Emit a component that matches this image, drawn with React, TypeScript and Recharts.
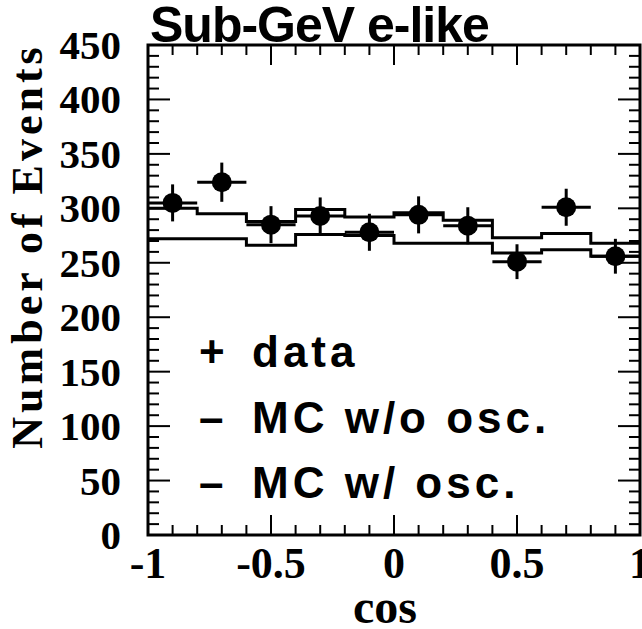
import { ComposedChart, Line, Scatter, ErrorBar, XAxis, YAxis, Legend, ReferenceArea } from 'recharts';

// binning in cos(theta)
const binEdges = [-1, -0.8, -0.6, -0.4, -0.2, 0, 0.2, 0.4, 0.6, 0.8, 1];
const binCenters = [-0.9, -0.7, -0.5, -0.3, -0.1, 0.1, 0.3, 0.5, 0.7, 0.9];
const binHalfWidths = [0.1, 0.1, 0.1, 0.1, 0.1, 0.1, 0.1, 0.1, 0.1, 0.1];

// measured events + MC expectations
const dataCounts = [305, 324, 285, 293, 278, 294, 284, 251, 301, 256];
const dataErrors = [17, 18, 17, 17, 17, 17, 17, 16, 17, 16];
const mcNoOsc = [300, 295, 288, 299, 292, 296, 289, 273, 277, 268];
const mcOsc = [272, 272, 266, 276, 275, 268, 268, 259, 262, 256];

const xMajorTicks = [-1, -0.5, 0, 0.5, 1];
const xTickLabels = ['-1', '-0.5', '0', '0.5', '1'];
const xAllTicks = [
  -1, -0.9, -0.8, -0.7, -0.6, -0.5, -0.4, -0.3, -0.2, -0.1, 0,
  0.1, 0.2, 0.3, 0.4, 0.5, 0.6, 0.7, 0.8, 0.9, 1,
];
const yMajorTicks = [0, 50, 100, 150, 200, 250, 300, 350, 400, 450];
const yTickLabels = ['0', '50', '100', '150', '200', '250', '300', '350', '400', '450'];
const yAllTicks = [
  0, 10, 20, 30, 40, 50, 60, 70, 80, 90, 100, 110, 120, 130, 140, 150, 160, 170, 180, 190,
  200, 210, 220, 230, 240, 250, 260, 270, 280, 290, 300, 310, 320, 330, 340, 350, 360, 370,
  380, 390, 400, 410, 420, 430, 440, 450,
];

const legendSymbols = ['+', '–', '–'];
const legendLabels = ['data', 'MC w/o osc.', 'MC w/ osc.'];

const histData = binEdges.map((x, i) => ({
  x,
  noOsc: mcNoOsc[Math.min(i, mcNoOsc.length - 1)],
  osc: mcOsc[Math.min(i, mcOsc.length - 1)],
}));
const pointData = binCenters.map((x, i) => ({ x, y: dataCounts[i], ey: dataErrors[i], ex: binHalfWidths[i] }));

const W = 642;
const H = 629;
const M = { top: 45, right: 2, bottom: 0, left: 0 };
const Y_AXIS_W = 148;
const X_AXIS_H = 94;
const PLOT_TOP = M.top;
const PLOT_BOTTOM = H - M.bottom - X_AXIS_H;
const PLOT_LEFT = M.left + Y_AXIS_W;
const PLOT_RIGHT = W - M.right;

const SERIF = '"Liberation Serif", "Times New Roman", serif';
const SANS = '"Liberation Sans", Arial, sans-serif';

// ticks point inward on both opposite sides of the frame
function XTick({ x, payload }: any) {
  const idx = xMajorTicks.indexOf(payload.value);
  const len = idx >= 0 ? 20 : 10;
  return (
    <g>
      <line x1={x} x2={x} y1={PLOT_BOTTOM} y2={PLOT_BOTTOM - len} stroke="#000" strokeWidth={2} />
      <line x1={x} x2={x} y1={PLOT_TOP} y2={PLOT_TOP + len} stroke="#000" strokeWidth={2} />
      {idx >= 0 && (
        <text x={x} y={PLOT_BOTTOM + 43} textAnchor="middle" fontFamily={SERIF} fontWeight="bold"
          fontSize={44} fill="#000">
          {xTickLabels[idx]}
        </text>
      )}
    </g>
  );
}

function YTick({ y, payload }: any) {
  const idx = yMajorTicks.indexOf(payload.value);
  const len = idx >= 0 ? 22 : 11;
  return (
    <g>
      <line x1={PLOT_LEFT} x2={PLOT_LEFT + len} y1={y} y2={y} stroke="#000" strokeWidth={2} />
      <line x1={PLOT_RIGHT} x2={PLOT_RIGHT - len} y1={y} y2={y} stroke="#000" strokeWidth={2} />
      {idx >= 0 && (
        <text x={PLOT_LEFT - 27} y={y} dy={14} textAnchor="end" fontFamily={SERIF} fontWeight="bold"
          fontSize={41} fill="#000">
          {yTickLabels[idx]}
        </text>
      )}
    </g>
  );
}

function YTitle({ viewBox }: any) {
  const cx = viewBox.x + 42;
  const cy = viewBox.y + 201;
  return (
    <text x={cx} y={cy} transform={`rotate(-90, ${cx}, ${cy})`} textAnchor="middle"
      fontFamily={SERIF} fontWeight="bold" fontSize={44} letterSpacing={4} fill="#000">
      Number of Events
    </text>
  );
}

function XTitle({ viewBox }: any) {
  return (
    <text x={viewBox.x + viewBox.width / 2 - 9} y={viewBox.y + 88} textAnchor="middle"
      fontFamily={SERIF} fontWeight="bold" fontSize={48} fill="#000">
      cos
    </text>
  );
}

function LegendBox() {
  return (
    <div style={{ fontFamily: SANS, fontWeight: 'bold', fontSize: 44, lineHeight: '65.5px', color: '#000', letterSpacing: 4 }}>
      {legendLabels.map((label, i) => (
        <div key={label} style={{ whiteSpace: 'nowrap' }}>
          <span style={{ display: 'inline-block', width: 53, letterSpacing: 0 }}>{legendSymbols[i]}</span>
          <span>{label}</span>
        </div>
      ))}
    </div>
  );
}

export default function App() {
  return (
    <div style={{ position: 'absolute', left: 0, top: 0, width: W, height: H, background: '#fff' }}>
      <div style={{
        position: 'absolute', left: PLOT_LEFT + 2, top: 0, fontFamily: SANS, fontWeight: 'bold',
        fontSize: 50, lineHeight: '50px', letterSpacing: -1, color: '#000', whiteSpace: 'nowrap', zIndex: 1,
      }}>
        Sub-GeV e-like
      </div>
      <ComposedChart width={W} height={H} margin={M}>
        <XAxis xAxisId="x" dataKey="x" type="number" domain={[-1, 1]} allowDataOverflow ticks={xAllTicks}
          interval={0} height={X_AXIS_H} tickLine={false} axisLine={false} tick={<XTick />}
          label={<XTitle />} />
        <YAxis yAxisId="y" type="number" domain={[0, 450]} allowDataOverflow ticks={yAllTicks}
          interval={0} width={Y_AXIS_W} tickLine={false} axisLine={false} tick={<YTick />}
          label={<YTitle />} />

        <ReferenceArea xAxisId="x" yAxisId="y" x1={-1} x2={1} y1={0} y2={450} fill="none" fillOpacity={0}
          stroke="#000" strokeWidth={3} ifOverflow="visible" />

        <Line xAxisId="x" yAxisId="y" data={histData} dataKey="noOsc" name="MC w/o osc." type="stepAfter"
          stroke="#000" strokeWidth={3} dot={false} isAnimationActive={false} />
        <Line xAxisId="x" yAxisId="y" data={histData} dataKey="osc" name="MC w/ osc." type="stepAfter"
          stroke="#000" strokeWidth={3} dot={false} isAnimationActive={false} />
        <Scatter xAxisId="x" yAxisId="y" data={pointData} dataKey="y" name="data" fill="#000"
          isAnimationActive={false}
          shape={(p: any) => <circle cx={p.cx} cy={p.cy} r={10} fill="#000" />}>
          <ErrorBar dataKey="ey" direction="y" width={0} stroke="#000" strokeWidth={3} isAnimationActive={false} />
          <ErrorBar dataKey="ex" direction="x" width={0} stroke="#000" strokeWidth={3} isAnimationActive={false} />
        </Scatter>

        <Legend layout="vertical" verticalAlign="middle" align="center" content={<LegendBox />}
          wrapperStyle={{ left: 199, top: 319, width: 'auto' }} />
      </ComposedChart>
    </div>
  );
}
